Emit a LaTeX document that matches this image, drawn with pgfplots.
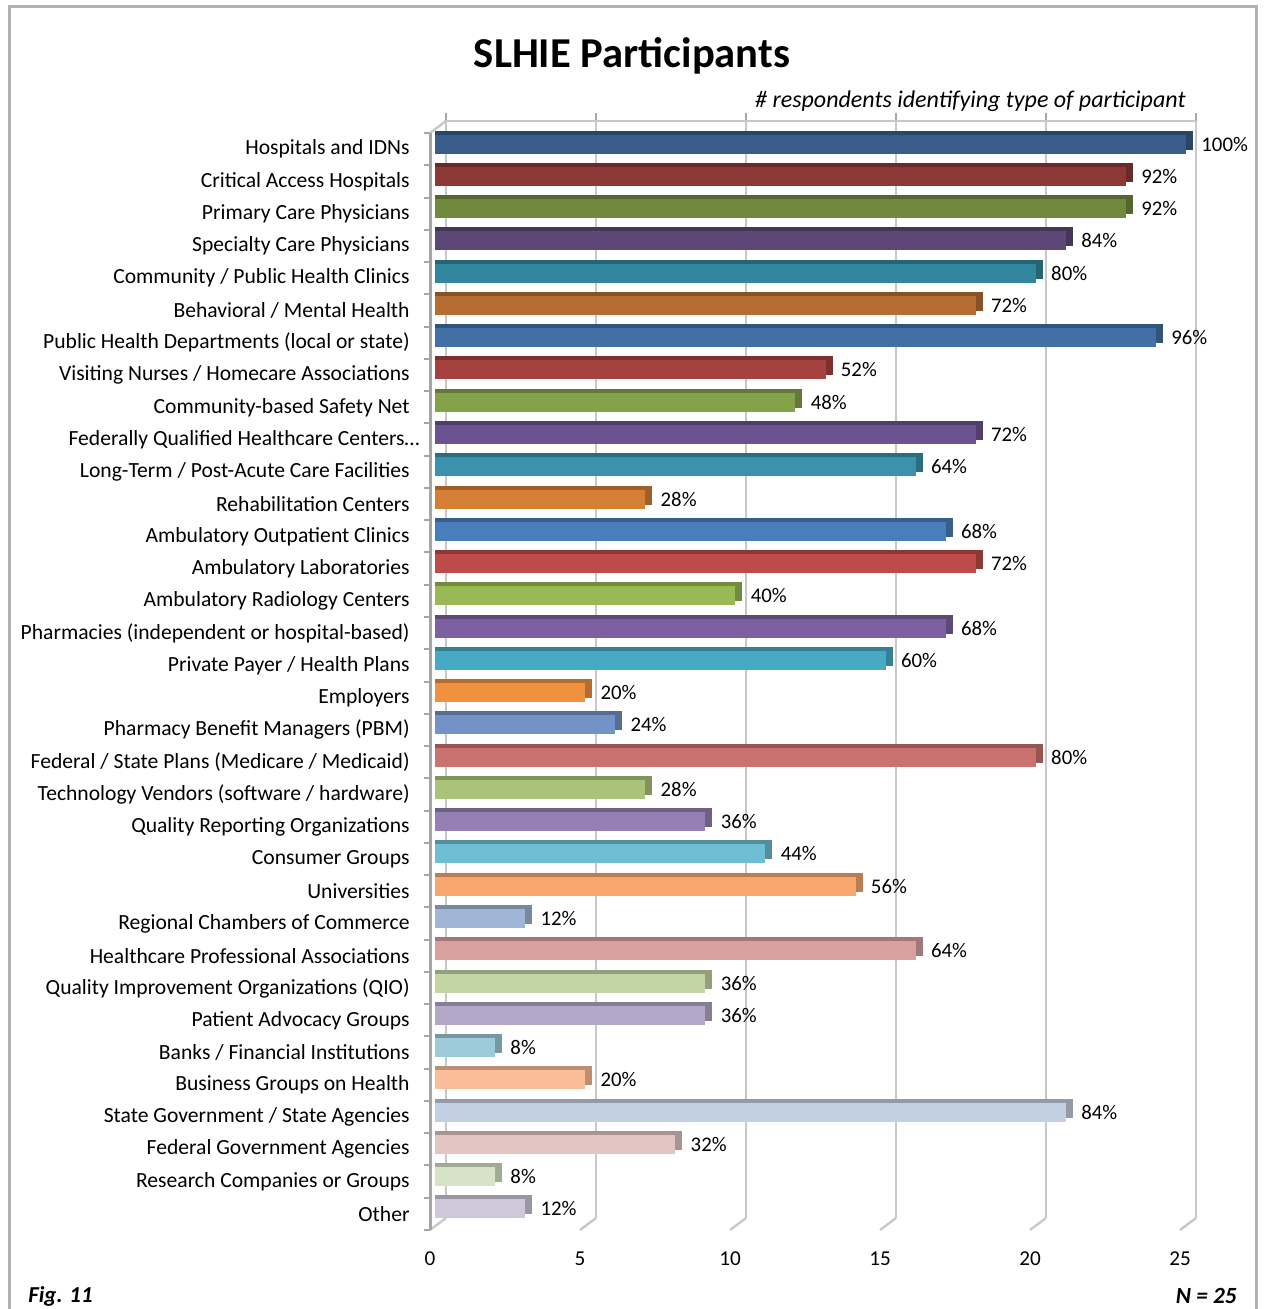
\documentclass[border=0pt]{standalone}
\usepackage{pgfplots}
\pgfplotsset{compat=1.18}
\usepackage{pgfplotstable}
\usepackage{fontspec}
\setmainfont{Carlito}

\definecolor{c0}{HTML}{385D8A}
\definecolor{c1}{HTML}{8C3836}
\definecolor{c2}{HTML}{71893F}
\definecolor{c3}{HTML}{5C4776}
\definecolor{c4}{HTML}{31859C}
\definecolor{c5}{HTML}{B66D31}
\definecolor{c6}{HTML}{4270A6}
\definecolor{c7}{HTML}{A5413F}
\definecolor{c8}{HTML}{84A24A}
\definecolor{c9}{HTML}{6B5390}
\definecolor{c10}{HTML}{3A92AC}
\definecolor{c11}{HTML}{D47F33}
\definecolor{c12}{HTML}{4A7EBB}
\definecolor{c13}{HTML}{BE4B48}
\definecolor{c14}{HTML}{98B954}
\definecolor{c15}{HTML}{7D60A0}
\definecolor{c16}{HTML}{46AAC5}
\definecolor{c17}{HTML}{F0913F}
\definecolor{c18}{HTML}{7393C6}
\definecolor{c19}{HTML}{C97270}
\definecolor{c20}{HTML}{A9C47A}
\definecolor{c21}{HTML}{9480B3}
\definecolor{c22}{HTML}{6FBDD3}
\definecolor{c23}{HTML}{F8A86F}
\definecolor{c24}{HTML}{A1B5D7}
\definecolor{c25}{HTML}{D9A0A0}
\definecolor{c26}{HTML}{C4D5A5}
\definecolor{c27}{HTML}{B4A8C9}
\definecolor{c28}{HTML}{9ECBD9}
\definecolor{c29}{HTML}{FBBD98}
\definecolor{c30}{HTML}{C3CFE2}
\definecolor{c31}{HTML}{E3C5C4}
\definecolor{c32}{HTML}{D6E3C7}
\definecolor{c33}{HTML}{CFC8DA}
\definecolor{gridgray}{HTML}{C8C8C8}
\definecolor{axisgray}{HTML}{A6A6A6}

\pgfplotstableread{
i y v pct
0 33 25 100
1 32 23 92
2 31 23 92
3 30 21 84
4 29 20 80
5 28 18 72
6 27 24 96
7 26 13 52
8 25 12 48
9 24 18 72
10 23 16 64
11 22 7 28
12 21 17 68
13 20 18 72
14 19 10 40
15 18 17 68
16 17 15 60
17 16 5 20
18 15 6 24
19 14 20 80
20 13 7 28
21 12 9 36
22 11 11 44
23 10 14 56
24 9 3 12
25 8 16 64
26 7 9 36
27 6 9 36
28 5 2 8
29 4 5 20
30 3 21 84
31 2 8 32
32 1 2 8
33 0 3 12
}\data

\begin{document}
\begin{tikzpicture}
\useasboundingbox (0,0) rectangle (632pt,-654.5pt);
\begin{scope}[x=0.5pt,y=-0.5pt]
\draw[gray!60, line width=1.5pt] (9,7) rectangle (1256,1330);
\end{scope}

% back wall
\begin{axis}[at={(223pt,-60.5pt)}, anchor=north west, scale only axis,
  width=375pt, height=548.5pt, xmin=0, xmax=25, ymin=-0.5, ymax=33.5,
  axis x line*=top, axis y line=none, xtick={0,5,...,25}, xticklabels={},
  ytick=\empty, tick align=outside, major tick length=4pt,
  xmajorgrids, grid style={draw=gridgray, line width=1.2pt},
  x axis line style={draw=gridgray, line width=1.2pt, -},
  tick style={draw=axisgray, line width=0.8pt}]
\addplot[draw=none] coordinates {(0,0)};
\end{axis}

\begin{scope}[x=0.5pt,y=-0.5pt]
\foreach \k in {0,...,5} \draw[gridgray, line width=1.2pt] ({446+150*\k},1218) -- ({430+150*\k},1230);
\draw[gridgray, line width=1.2pt] (430,133) -- (446,121);
\end{scope}

% bars
\begin{axis}[at={(217.5pt,-64pt)}, anchor=north west, scale only axis,
  width=375.5pt, height=548.5pt, xmin=0, xmax=25, ymin=-0.5, ymax=33.5,
  axis lines=none, clip=false, xbar, bar width=9.5pt]
\pgfplotsinvokeforeach{0,...,33}{
  \addplot[draw=none, fill=c#1!75!black, bar shift=2pt]
    table[x expr=\thisrow{v}+0.233, y=y, restrict expr to domain={\thisrow{i}}{#1:#1}]{\data};
  \addplot[draw=none, fill=c#1, bar shift=0pt,
    nodes near coords={\pgfplotspointmeta\%}, point meta=explicit symbolic,
    nodes near coords style={anchor=west, inner sep=0pt, xshift=7.5pt, font=\fontsize{10.4}{12}\selectfont, text=black}]
    table[x=v, y=y, meta=pct, restrict expr to domain={\thisrow{i}}{#1:#1}]{\data};
}
\end{axis}

% front axis
\begin{axis}[at={(215pt,-66.5pt)}, anchor=north west, scale only axis,
  width=375pt, height=548.5pt, xmin=0, xmax=25, ymin=-0.5, ymax=33.5,
  axis y line*=left, axis x line*=bottom,
  x axis line style={draw=none},
  y axis line style={draw=axisgray, line width=1.5pt, -},
  xtick={0,5,...,25}, major tick length=0pt,
  /pgf/number format/assume math mode=true,
  xticklabel style={font=\fontsize{10.6}{12}\selectfont, anchor=center, yshift=-14.5pt},
  ytick={0,...,33},
  yticklabels={Other, Research Companies or Groups, Federal Government Agencies,
    State Government / State Agencies, Business Groups on Health,
    Banks / Financial Institutions, Patient Advocacy Groups,
    Quality Improvement Organizations (QIO), Healthcare Professional Associations,
    Regional Chambers of Commerce, Universities, Consumer Groups,
    Quality Reporting Organizations, Technology Vendors (software / hardware),
    Federal / State Plans (Medicare / Medicaid), Pharmacy Benefit Managers (PBM),
    Employers, Private Payer / Health Plans, Pharmacies (independent or hospital-based),
    Ambulatory Radiology Centers, Ambulatory Laboratories, Ambulatory Outpatient Clinics,
    Rehabilitation Centers, Long-Term / Post-Acute Care Facilities,
    {Federally Qualified Healthcare Centers…\hspace*{-5pt}}, Community-based Safety Net,
    Visiting Nurses / Homecare Associations, Public Health Departments (local or state),
    Behavioral / Mental Health, Community / Public Health Clinics,
    Specialty Care Physicians, Primary Care Physicians, Critical Access Hospitals,
    Hospitals and IDNs},
  yticklabel style={font=\fontsize{10.8}{12}\selectfont, anchor=east, inner sep=0pt, xshift=-10pt},
  minor ytick={-0.5,0.5,...,33.5}, minor tick length=3pt, tick align=outside,
  minor tick style={draw=axisgray, line width=1pt}]
\addplot[draw=none] coordinates {(0,0)};
\end{axis}

\begin{scope}[x=0.5pt,y=-0.5pt]
\node[font=\bfseries\fontsize{21.3}{25}\selectfont] at (632,56) {SLHIE Participants};
\node[anchor=east, inner sep=0pt, font=\itshape\fontsize{12}{14}\selectfont] at (1186,101) {\# respondents identifying type of participant};
\node[anchor=west, inner sep=0pt, font=\bfseries\itshape\fontsize{11.4}{13}\selectfont] at (28,1296) {Fig. 11};
\node[anchor=east, inner sep=0pt, font=\bfseries\itshape\fontsize{11.6}{13}\selectfont] at (1237,1296) {N = 25};
\end{scope}
\end{tikzpicture}
\end{document}
